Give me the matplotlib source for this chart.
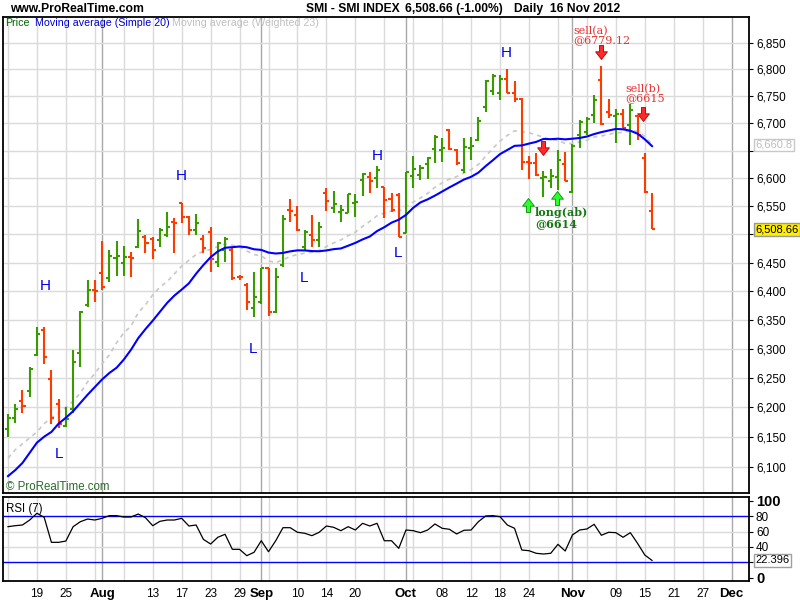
import numpy as np
import pandas as pd
import matplotlib
matplotlib.use("Agg")
import matplotlib.pyplot as plt
from matplotlib.path import Path
from matplotlib.ticker import FixedLocator, FuncFormatter, NullLocator
import matplotlib.transforms as mtrans

# ---------------- data ----------------
opens = [6163, 6182, 6211, 6228, 6289.6, 6332.3, 6248.5, 6205.3, 6168.6, 6197.3,
         6293, 6375.8, 6402, 6431.2, 6422.5, 6458.2, 6448.8, 6460.4, 6478.2, 6495.9,
         6491.8, 6490.1, 6498.9, 6522.7, 6555.6, 6531.6, 6507.9, 6491.3, 6504.8, 6451.6,
         6472.3, 6472.3, 6425.3, 6410.6, 6370.2, 6380.3, 6440, 6364.1, 6445.8, 6543.9,
         6534.6, 6478.2, 6498.9, 6490.1, 6573.5, 6546.6, 6540.2, 6538.8, 6555, 6597.5,
         6603.4, 6600.5, 6585.4, 6562.6, 6570.5, 6503.1, 6604.7, 6606.5, 6626.4, 6653.1,
         6651.8, 6688.3, 6651.8, 6615.5, 6655.5, 6670.1, 6731.2, 6760.7, 6755.9, 6781.5,
         6757, 6744.8, 6630.6, 6628.8, 6601.1, 6595.7, 6603.4, 6625.8, 6575.3, 6679.2,
         6685.2, 6715.9, 6780, 6720.8, 6714, 6717, 6696.7, 6714.6, 6637.9, 6542.3]
highs = [6187.8, 6205.3, 6229.2, 6268, 6337, 6337, 6263.4, 6213.8, 6200.7, 6297.6,
         6365.9, 6419.5, 6419.5, 6488.8, 6472.3, 6488.8, 6479.4, 6469.3, 6527, 6498.9,
         6494.9, 6510.9, 6540.5, 6528.7, 6555.6, 6532.9, 6536.4, 6498.9, 6513.8, 6487.1,
         6494.9, 6475.4, 6428.3, 6414.7, 6434, 6440, 6440, 6440, 6534.6, 6562.8,
         6550.7, 6507.9, 6534.6, 6522.7, 6582.5, 6578.2, 6552.5, 6572.3, 6572.3, 6609.6,
         6612.5, 6622.8, 6585.4, 6574.6, 6573.5, 6612.5, 6640.9, 6624.6, 6638.6, 6679.2,
         6673.2, 6689.6, 6653.1, 6673.2, 6676.1, 6712.7, 6780.6, 6791.7, 6789.8, 6800.4,
         6777.5, 6746.7, 6640.9, 6645.8, 6613.9, 6617.5, 6651.8, 6648.7, 6662.2, 6706.6,
         6712.7, 6751.5, 6806.4, 6745.4, 6726.8, 6726.8, 6735.5, 6714.6, 6645.8, 6573.5]
lows = [6150, 6172.6, 6189.5, 6216.7, 6287.3, 6273, 6171, 6165, 6166.9, 6189.5,
        6269, 6372.8, 6381.5, 6402, 6416.5, 6426.5, 6426.5, 6425.3, 6475.4, 6467.6,
        6455.9, 6478.2, 6495.9, 6467.6, 6519.8, 6498.9, 6498.9, 6467.6, 6434, 6442.8,
        6451.6, 6419.5, 6419.5, 6367, 6355.4, 6377.3, 6356.6, 6361.3, 6442.8, 6522.7,
        6506.6, 6472.3, 6477.1, 6478.2, 6542.3, 6537.7, 6521.4, 6537.7, 6530.5, 6568.7,
        6573.5, 6582.5, 6528.7, 6540.5, 6495.9, 6502, 6583, 6597.5, 6598.7, 6628.8,
        6630.6, 6651.8, 6624.6, 6609.6, 6633.7, 6668.8, 6722, 6752.8, 6743.5, 6757,
        6738.6, 6615.5, 6598.7, 6604.7, 6567.4, 6582.5, 6579.8, 6594.8, 6573.5, 6654.9,
        6679.2, 6700.5, 6697.5, 6709.7, 6664.1, 6691.3, 6661.1, 6670.1, 6573.5, 6508.66]
closes = [6182, 6196.3, 6201.9, 6265, 6324.8, 6286, 6181, 6171.5, 6180.4, 6277.6,
          6363.6, 6402, 6400.3, 6407.7, 6461.7, 6461.7, 6459.4, 6458.6, 6506.6, 6485.3,
          6472.3, 6507.9, 6512.7, 6519.8, 6531.6, 6507.9, 6519.8, 6475.4, 6455.9, 6484.3,
          6491.3, 6422.5, 6424.2, 6381.5, 6390.2, 6440, 6364.1, 6425.3, 6527.4, 6540.9,
          6507.9, 6504.8, 6490.1, 6513.8, 6559.7, 6553.8, 6543.9, 6572.3, 6557, 6607.8,
          6594.8, 6615.3, 6561.5, 6543.9, 6495.9, 6612.5, 6617.3, 6618.7, 6636.8, 6675,
          6655.5, 6653.1, 6627.7, 6657.8, 6659.1, 6705.3, 6777.5, 6786.7, 6781.5, 6757,
          6744.8, 6630.6, 6628.8, 6606.5, 6602.9, 6603.8, 6633.7, 6596, 6659.6, 6702.4,
          6707.9, 6743.5, 6698.7, 6715.9, 6717, 6692.4, 6724.9, 6679.2, 6576.4, 6508.66]
# moving-average values before enough bars exist
sma20_early = [6084, 6094, 6106, 6123, 6140, 6150, 6158, 6172, 6182, 6193,
               6207, 6221, 6234, 6247, 6258, 6267, 6281, 6298, 6318]
wma23_early = [6114, 6128, 6138, 6148, 6158, 6172, 6182, 6190, 6200, 6210, 6224,
               6243, 6257, 6274, 6289, 6310, 6327, 6339, 6362, 6376, 6393, 6407]
wma23_last_shown = 6660.8
rsi7 = [66.4, 67.7, 68.6, 75.1, 83.9, 78.6, 46.0, 46.0, 47.7, 66.4,
        72.9, 76.4, 75.1, 77.3, 80.8, 80.8, 79.0, 79.0, 82.9, 78.1,
        67.7, 73.4, 75.1, 75.1, 77.3, 67.3, 68.6, 49.9, 43.8, 52.6,
        56.5, 36.9, 36.9, 28.6, 33.0, 48.1, 33.8, 48.1, 65.1, 65.1,
        59.1, 57.8, 54.7, 59.1, 67.3, 65.6, 61.2, 66.4, 62.1, 70.8,
        67.3, 70.8, 48.1, 48.1, 38.2, 62.1, 61.2, 58.6, 62.1, 69.9,
        64.3, 63.0, 56.9, 61.7, 62.1, 72.9, 80.3, 80.8, 79.4, 68.6,
        64.3, 36.0, 35.1, 31.7, 30.8, 31.7, 43.4, 34.7, 55.6, 62.1,
        63.4, 69.5, 55.2, 59.1, 58.6, 52.6, 58.6, 44.7, 29.5, 22.396]
price_ticks = list(range(6100, 6851, 50))
price_hidden = [6500, 6650]          # covered by value boxes in the chart
rsi_ticks = [0, 20, 40, 60, 80, 100]
rsi_hidden = [20]
rsi_levels = [20, 80]
first_date = "2012-07-13"
axis_end_date = "2012-12-07"
holidays = ["2012-08-01"]
label_dates = ["2012-07-19", "2012-07-25", "2012-08-02", "2012-08-13", "2012-08-17",
               "2012-08-23", "2012-08-29", "2012-09-03", "2012-09-10", "2012-09-14",
               "2012-09-20", "2012-10-01", "2012-10-08", "2012-10-12", "2012-10-18",
               "2012-10-24", "2012-11-01", "2012-11-09", "2012-11-15", "2012-11-21",
               "2012-11-27", "2012-12-03"]
month_dates = ["2012-08-02", "2012-09-03", "2012-10-01", "2012-11-01", "2012-12-03"]
hl_text = ["H", "L", "H", "L", "L", "H", "L", "H"]
hl_x = [5.2, 7.0, 24.0, 33.9, 40.9, 51.0, 53.9, 68.9]
hl_y = [6408, 6121, 6605, 6299, 6422, 6641, 6466, 6831]

# ---------------- derived ----------------
cal = pd.bdate_range(first_date, axis_end_date)
cal = cal[~cal.isin(pd.to_datetime(holidays))]
pos = {d: i for i, d in enumerate(cal)}
n = len(closes)
x = np.arange(n)
cser = pd.Series(closes, dtype=float)
sma = cser.rolling(20).mean().to_numpy()
sma[:len(sma20_early)] = sma20_early
wts = np.arange(1, 24)
wma = cser.rolling(23).apply(lambda s: np.dot(s, wts) / wts.sum(), raw=True).to_numpy()
wma[:len(wma23_early)] = wma23_early

GREEN = "#3a9a00"
RED = "#ff3c00"
GRID = "#dadada"
MGRID = "#a8a8a8"
BLUE = "#0000ff"
SANS = ["Liberation Sans", "DejaVu Sans"]

fig = plt.figure(figsize=(8, 6), dpi=100)
fig.patch.set_facecolor("white")
ax = fig.add_axes([3 / 800, 1 - 493 / 600, 746 / 800, 476 / 600])
axr = fig.add_axes([3 / 800, 1 - 581 / 600, 746 / 800, 84 / 600])

xlim = (-0.69, 102.4)
grid_idx = list(range(0, len(cal), 4))
month_idx = [pos[pd.Timestamp(d)] for d in month_dates]

for a in (ax, axr):
    a.set_xlim(*xlim)
    for gi in grid_idx:
        if gi not in month_idx:
            a.axvline(gi, color=GRID, lw=1, zorder=0)
    for mi in month_idx:
        a.axvline(mi, color=MGRID, lw=1, zorder=0)
    for s in a.spines.values():
        s.set_linewidth(1.3)
        s.set_color("black")

# ---- main price panel ----
ax.set_yscale("log")
ax.set_ylim(6056, 6898)
for p in price_ticks:
    ax.axhline(p, color=GRID, lw=1, zorder=0)

ax.plot(x, wma, color="#c8c8c8", lw=1.2, ls=(0, (2.5, 2.5)), zorder=2)
up = np.array(closes) >= np.array(opens)
cols = np.where(up, GREEN, RED)
ax.vlines(x, lows, highs, colors=cols, lw=1.5, zorder=3)
ax.hlines(opens, x - 0.42, x, colors=cols, lw=1.5, zorder=3)
ax.hlines(closes, x, x + 0.42, colors=cols, lw=1.5, zorder=3)
ax.plot(x, sma, color=BLUE, lw=1.5, zorder=4)

ax.yaxis.tick_right()
ax.yaxis.set_major_locator(FixedLocator(price_ticks))
ax.yaxis.set_minor_locator(NullLocator())
ax.yaxis.set_major_formatter(FuncFormatter(
    lambda v, p: "" if round(v) in price_hidden else f"{v:,.0f}"))
ax.tick_params(axis="y", which="major", direction="out", length=3, width=0.8, pad=2,
               labelsize=8.5, colors="black")
ax.tick_params(axis="x", which="both", length=0, labelbottom=False)
for lab in ax.get_yticklabels():
    lab.set_fontfamily(SANS)

for t, hx, hy in zip(hl_text, hl_x, hl_y):
    ax.text(hx, hy, t, color="#0000ee", fontsize=11, ha="center", va="center",
            family=SANS, zorder=6)

# arrows
down_arrow = Path([(-0.3, 1), (0.3, 1), (0.3, 0.1), (0.85, 0.1), (0, -1),
                   (-0.85, 0.1), (-0.3, 0.1), (-0.3, 1)], closed=True)
up_arrow = Path([(vx, -vy) for vx, vy in down_arrow.vertices], closed=True)
for ax_x, ax_y in [(82.0, 6832), (87.8, 6718), (73.9, 6655)]:
    ax.plot([ax_x], [ax_y], marker=down_arrow, ms=10, mfc="#ff2a2a", mec="#b00000",
            mew=0.6, zorder=7)
for ax_x, ax_y in [(71.9, 6552), (75.9, 6564)]:
    ax.plot([ax_x], [ax_y], marker=up_arrow, ms=10, mfc="#2cff2c", mec="#009000",
            mew=0.6, zorder=7)

SERIF = ["DejaVu Serif"]
ax.text(78.1, 6872, "sell(a)", color="#e83030", fontsize=8, family=SERIF,
        ha="left", va="center", zorder=7)
ax.text(78.1, 6854, "@6779.12", color="#e83030", fontsize=8, family=SERIF,
        ha="left", va="center", zorder=7)
ax.text(85.3, 6764, "sell(b)", color="#e83030", fontsize=8, family=SERIF,
        ha="left", va="center", zorder=7)
ax.text(85.3, 6746, "@6615", color="#e83030", fontsize=8, family=SERIF,
        ha="left", va="center", zorder=7)
ax.text(72.8, 6538, "long(ab)", color="#117711", fontsize=8, family=SERIF,
        fontweight="bold", ha="left", va="center", zorder=7)
ax.text(72.8, 6519.5, "@6614", color="#117711", fontsize=8, family=SERIF,
        fontweight="bold", ha="left", va="center", zorder=7)

# legend line and copyright
ax.text(0.0027, 0.9874, "Price", color="#006400", fontsize=7.7, family=SANS,
        transform=ax.transAxes, va="center", ha="left")
ax.text(0.0429, 0.9874, "Moving average (Simple 20)", color="#0000cc", fontsize=7.7,
        family=SANS, transform=ax.transAxes, va="center", ha="left")
ax.text(0.2265, 0.9874, "Moving average (Weighted 23)", color="#c0c0c0", fontsize=7.7,
        family=SANS, transform=ax.transAxes, va="center", ha="left")
ax.text(0.0045, 0.0126, "\u00a9 ProRealTime.com", color="#2a6a2a", fontsize=8.3,
        family=SANS, transform=ax.transAxes, va="center", ha="left")

# value boxes on the right axis
btr = mtrans.blended_transform_factory(ax.transAxes, ax.transData)
ax.text(1.0085, wma23_last_shown, f"{wma23_last_shown:,.1f}", transform=btr, fontsize=8,
        family=SANS, color="#bdbdbd", va="center", ha="left", zorder=8, clip_on=False,
        bbox=dict(boxstyle="square,pad=0.12", fc="white", ec="#c8c8c8", lw=1))
ax.text(1.0085, closes[-1], f"{closes[-1]:,.2f}", transform=btr, fontsize=8,
        family=SANS, color="black", va="center", ha="left", zorder=8, clip_on=False,
        bbox=dict(boxstyle="square,pad=0.12", fc="#ffee00", ec="#999999", lw=1))

# ---- RSI panel ----
axr.set_ylim(-4.4, 105.1)
for g in (40, 60):
    axr.axhline(g, color=GRID, lw=1, zorder=0)
for lv in rsi_levels:
    axr.axhline(lv, color=BLUE, lw=1, zorder=2)
axr.plot(x, rsi7, color="black", lw=0.9, zorder=3)
axr.yaxis.tick_right()
axr.yaxis.set_major_locator(FixedLocator(rsi_ticks))
axr.yaxis.set_major_formatter(FuncFormatter(
    lambda v, p: "" if round(v) in rsi_hidden else f"{v:.0f}"))
axr.tick_params(axis="y", direction="out", length=3, width=0.8, pad=2, labelsize=8.5)
for lab in axr.get_yticklabels():
    lab.set_fontfamily(SANS)
    if lab.get_text() in ("0", "100"):
        lab.set_fontweight("bold")
        lab.set_fontsize(10.5)
axr.text(0.0045, 0.86, "RSI (7)", transform=axr.transAxes, fontsize=8.3, family=SANS,
         va="center", ha="left")
btr2 = mtrans.blended_transform_factory(axr.transAxes, axr.transData)
axr.text(1.0085, rsi7[-1], f"{rsi7[-1]:.3f}", transform=btr2, fontsize=8,
         family=SANS, color="black", va="center", ha="left", zorder=8, clip_on=False,
         bbox=dict(boxstyle="square,pad=0.12", fc="white", ec="#a0a0a0", lw=1))

lab_idx = [pos[pd.Timestamp(d)] for d in label_dates]
lab_txt = [pd.Timestamp(d).strftime("%b") if d in month_dates
           else pd.Timestamp(d).strftime("%d") for d in label_dates]
axr.set_xticks(lab_idx)
axr.set_xticklabels(lab_txt)
axr.tick_params(axis="x", length=0, pad=5, labelsize=8.5)
for lab, d in zip(axr.get_xticklabels(), label_dates):
    lab.set_fontfamily(SANS)
    if d in month_dates:
        lab.set_fontweight("bold")
        lab.set_fontsize(9.5)

# ---- header ----
HY = 1 - 9 / 600
fig.text(10 / 800, HY, "www.ProRealTime.com", fontsize=8.7, fontweight="bold",
         family=SANS, va="center", ha="left")
fig.text(306 / 800, HY, "SMI - SMI INDEX", fontsize=8.7, fontweight="bold",
         family=SANS, va="center", ha="left")
fig.text(405 / 800, HY, "6,508.66 (-1.00%)", fontsize=8.7, fontweight="bold",
         family=SANS, va="center", ha="left")
fig.text(514 / 800, HY, "Daily  16 Nov 2012", fontsize=8.7, fontweight="bold",
         family=SANS, va="center", ha="left")

fig.savefig("out.png", dpi=100, facecolor="white")
